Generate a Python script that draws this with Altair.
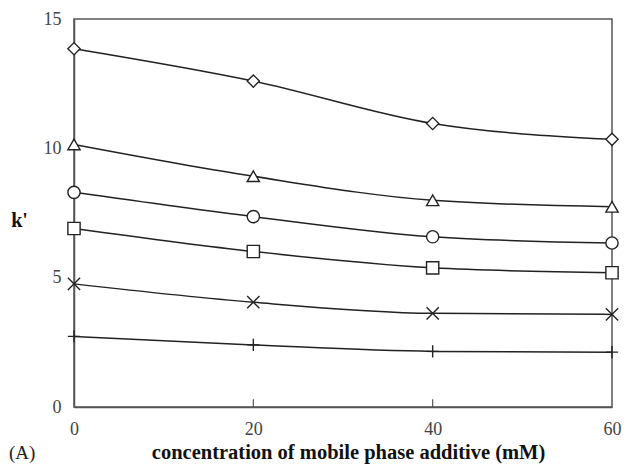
import altair as alt
import pandas as pd

conc = [0, 20, 40, 60]
series_names = ["diamond", "triangle", "circle", "square", "cross", "plus"]
k_diamond = [13.85, 12.6, 10.96, 10.35]
k_triangle = [10.15, 8.92, 7.99, 7.74]
k_circle = [8.30, 7.36, 6.58, 6.34]
k_square = [6.90, 6.01, 5.38, 5.19]
k_cross = [4.76, 4.05, 3.62, 3.58]
k_plus = [2.73, 2.40, 2.15, 2.12]
x_ticks = [0, 20, 40, 60]
y_ticks = [0, 5, 10, 15]

all_vals = [k_diamond, k_triangle, k_circle, k_square, k_cross, k_plus]
rows = []
for name, vals in zip(series_names, all_vals):
    for c, v in zip(conc, vals):
        rows.append({"conc": c, "k": v, "series": name})
df = pd.DataFrame(rows)

serif = "Liberation Serif"
ink = "#222222"

xscale = alt.Scale(domain=[0, 60], nice=False, zero=False)
yscale = alt.Scale(domain=[0, 15], nice=False)

shape_range = [
    "diamond",
    "triangle-up",
    "circle",
    "square",
    "M-1,-1L1,1M-1,1L1,-1",
    "M-1,0L1,0M0,-1L0,1",
]
size_range = [150, 150, 115, 120, 160, 180]

base = alt.Chart(df)

lines = base.mark_line(interpolate="monotone", color=ink, strokeWidth=1.5).encode(
    x=alt.X(
        "conc:Q",
        scale=xscale,
        axis=alt.Axis(
            values=x_ticks,
            labelFlush=False,
            grid=False,
            ticks=False,
            domainColor="#555555",
            domainWidth=1.5,
            labelFont=serif,
            labelFontSize=18,
            labelColor="#444444",
            labelPadding=13,
            title="concentration of mobile phase additive (mM)",
            titleFont=serif,
            titleFontSize=20.5,
            titleFontWeight="bold",
            titleColor="#111111",
            titleX=274,
            titleY=45,
            titleBaseline="middle",
            titleAlign="center",
        ),
    ),
    y=alt.Y(
        "k:Q",
        scale=yscale,
        axis=alt.Axis(
            values=y_ticks,
            labelFlush=False,
            grid=False,
            ticks=False,
            domainColor="#555555",
            domainWidth=1.5,
            labelFont=serif,
            labelFontSize=18,
            labelColor="#444444",
            labelPadding=13,
            title="k'",
            titleFont=serif,
            titleFontSize=20,
            titleFontWeight="bold",
            titleColor="#111111",
            titleAngle=0,
            titleX=-55,
            titleY=201,
            titleAlign="center",
            titleBaseline="middle",
        ),
    ),
    detail="series:N",
)

points = base.mark_point(filled=True, fill="white", stroke=ink, strokeWidth=1.4, opacity=1).encode(
    x=alt.X("conc:Q", scale=xscale),
    y=alt.Y("k:Q", scale=yscale),
    shape=alt.Shape("series:N", scale=alt.Scale(domain=series_names, range=shape_range), legend=None),
    size=alt.Size("series:N", scale=alt.Scale(domain=series_names, range=size_range), legend=None),
)

tick_df = pd.DataFrame({"conc": [20, 40], "y0": [0, 0], "y1": [0.3, 0.3]})
xticks_rule = alt.Chart(tick_df).mark_rule(color="#555555", strokeWidth=1.2).encode(
    x=alt.X("conc:Q", scale=xscale),
    y=alt.Y("y0:Q", scale=yscale),
    y2="y1:Q",
)

label_a = alt.Chart(pd.DataFrame({"t": ["(A)"]})).mark_text(
    font=serif, fontSize=19, color="#222222", align="left", baseline="middle"
).encode(text="t:N", x=alt.value(-65), y=alt.value(434))

chart = (
    alt.layer(lines, xticks_rule, points, label_a)
    .properties(
        width=538,
        height=388,
        autosize=alt.AutoSizeParams(type="none"),
        padding={"left": 66, "top": 11, "right": 10, "bottom": 61},
    )
    .configure_view(stroke="#555555", strokeWidth=1.5)
)

chart.save("out.html", embed_options={"renderer": "svg", "actions": False})
